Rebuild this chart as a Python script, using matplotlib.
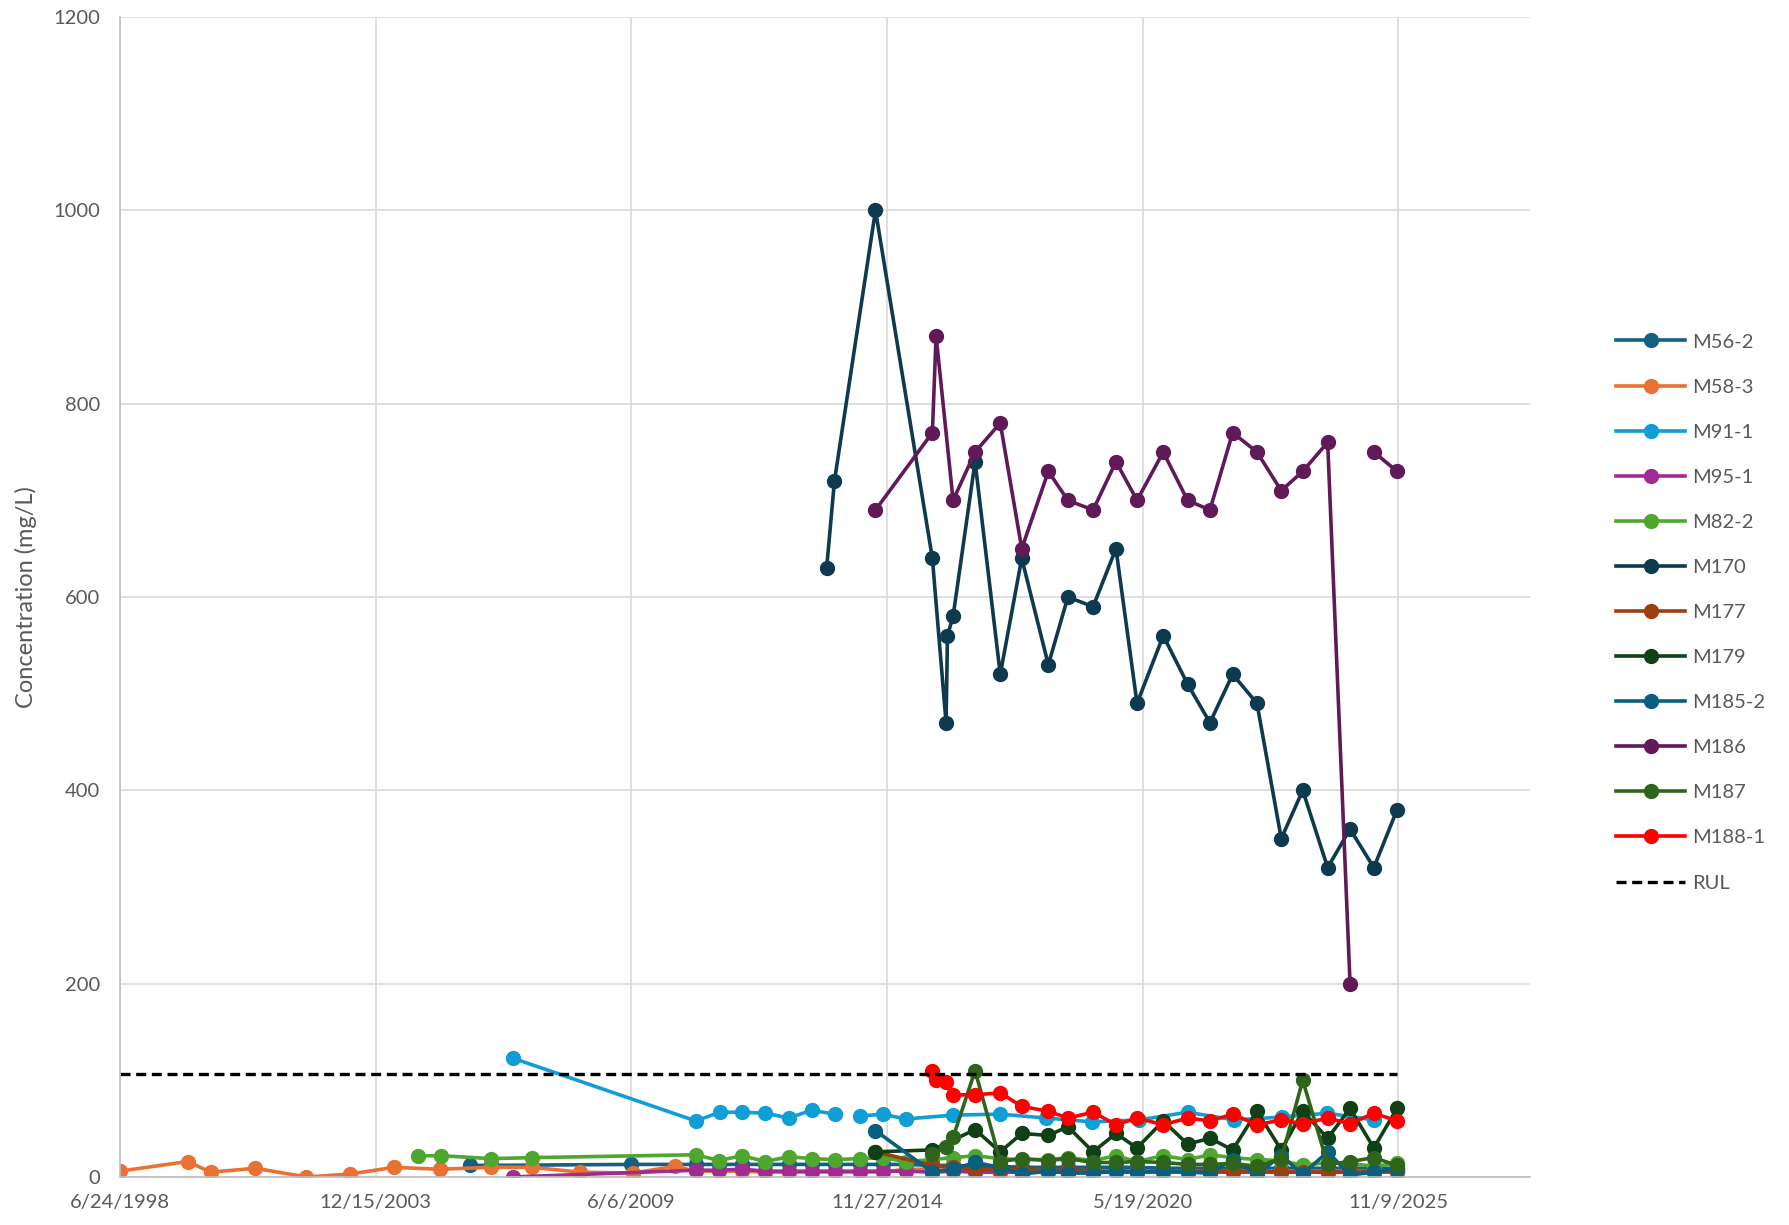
import numpy as np
import pandas as pd
import matplotlib
matplotlib.use("Agg")
import matplotlib.pyplot as plt

plt.rcParams["font.family"] = ["Lato", "DejaVu Sans"]

# ---- sampling dates ----
early_58 = ["1998-06-24", "1999-12-05", "2000-06-03", "2001-05-19", "2002-06-21",
            "2003-05-27", "2004-05-08", "2005-05-01", "2006-06-03", "2007-04-20",
            "2008-05-01", "2009-06-17", "2010-05-12"]
semi_early = ["2010-10-23", "2011-04-23", "2011-10-20", "2012-04-20", "2012-10-20",
              "2013-04-16", "2013-10-16", "2014-05-01", "2014-10-23"]
semi_late = ["2015-04-23", "2015-11-17", "2016-04-27", "2016-10-16", "2017-05-01",
             "2017-10-16", "2018-05-12", "2018-10-12", "2019-04-27", "2019-10-23",
             "2020-04-05", "2020-10-27", "2021-05-05", "2021-10-27", "2022-04-23",
             "2022-10-30", "2023-05-08", "2023-10-23", "2024-05-05", "2024-10-27",
             "2025-05-01", "2025-10-30"]
spring = ["2015-04-23", "2016-04-27", "2017-05-01", "2018-04-23", "2019-04-20",
          "2020-04-20", "2021-05-05", "2022-05-05", "2023-05-15", "2024-05-01",
          "2025-05-01"]

# ---- concentrations (mg/L) ----
m56_dates = ["2005-12-20", "2006-06-03", "2009-06-06"] + semi_early + semi_late
m56_vals = [12, 12, 13, 13, 13, 13, 13, 13, 13, 13, 13, 13,
            13, 12, 12, 11, 11, 10, 10, 10, 10, 10, 10, 9, 9, 9, 9, 9, 9, 9, 9, 9, 9, 9]

m58_dates = early_58 + semi_early + semi_late
m58_vals = [6, 16, 5, 9, 0, 3, 10, 8, 10, 10, 5, 4, 11,
            6, 6, 6, 5, 5, 5, 5, 5, 5,
            8, 8, 7, 6, 6, 6, 6, 6, 6, 6, 6, 6, 6, 6, 6, 6, 6, 6, 6, 6, 6, 6]

m91_dates = ["2006-11-20", "2010-10-23", "2011-04-30", "2011-10-20", "2012-04-20",
             "2012-10-20", "2013-04-16", "2013-10-16", "2014-01-15", "2014-05-01",
             "2014-10-23"] + spring
m91_vals = [123, 58, 67, 67, 66, 61, 69, 65, None, 63, 65,
            60, 64, 65, 61, 57, 59, 67, 59, 62, 66, 59]

m95_dates = ["2006-11-20"] + semi_early + semi_late
m95_vals = [0, 7, 7, 8, 6, 6, 6, 6, 6, 6,
            6, 5, 6, 5, 5, 5, 5, 5, 5, 5, 5, 5, 5, 5, 5, 5, 5, 5, 5, 5, 5, 5]

m82_dates = ["2004-11-10", "2005-05-08", "2006-06-03", "2007-04-20"] + semi_early + semi_late
m82_vals = [22, 22, 19, 20, 23, 17, 22, 16, 21, 19, 18, 19, 20,
            16, 18, 20, 22, 19, 18, 18, 20, 17, 22, 16, 22, 18, 23, 20, 18, 17, 12,
            15, 14, 11, 14]

m170_dates = ["2013-08-12", "2013-10-12", "2014-08-29", "2015-11-17", "2016-03-03",
              "2016-03-14", "2016-04-27", "2016-10-16", "2017-05-01", "2017-10-16",
              "2018-05-12", "2018-10-12", "2019-04-27", "2019-10-23", "2020-04-05",
              "2020-10-27", "2021-05-05", "2021-10-27", "2022-04-23", "2022-10-30",
              "2023-05-08", "2023-10-23", "2024-05-05", "2024-10-27", "2025-05-01",
              "2025-10-30"]
m170_vals = [630, 720, 1000, 640, 470, 560, 580, 740, 520, 640, 530, 600, 590, 650,
             490, 560, 510, 470, 520, 490, 350, 400, 320, 360, 320, 380]

m177_dates = ["2014-08-29"] + semi_late[1:]
m177_vals = [26, 12, 10, 8, 8, 7, 7, 7, 6, 6, 6, 6, 6, 6, 6, 6, 5, 5, 5, 5, 6, 6]

m179_dates = ["2014-08-29", "2015-11-17"] + semi_late[3:]
m179_vals = [26, 28, 49, 26, 45, 43, 52, 26, 45, 30, 58, 34, 40, 28, 68, 28, 68,
             40, 71, 30, 71]

m185_dates = ["2014-08-29", "2015-11-17", "2016-04-27"] + semi_late[3:]
m185_vals = [48, 5, 8, 15, 10, 3, 6, 4, 4, 6, 5, 6, 5, 4, 18, 3, 22, 3, 26, 2, 5, 8]

m186_dates = ["2014-08-29", "2015-11-17", "2015-12-16", "2016-04-27", "2016-10-16",
              "2017-05-01", "2017-10-16", "2018-05-12", "2018-10-12", "2019-04-27",
              "2019-10-23", "2020-04-05", "2020-10-27", "2021-05-05", "2021-10-27",
              "2022-04-23", "2022-10-30", "2023-05-08", "2023-10-23", "2024-05-05",
              "2024-10-27", "2025-01-20", "2025-05-01", "2025-10-30"]
m186_vals = [690, 770, 870, 700, 750, 780, 650, 730, 700, 690, 740, 700, 750, 700,
             690, 770, 750, 710, 730, 760, 200, None, 750, 730]

m187_dates = ["2015-11-17", "2016-03-03", "2016-04-27"] + semi_late[3:]
m187_vals = [24, 31, 41, 110, 16, 19, 17, 19, 15, 15, 16, 15, 13, 13, 14, 11, 19,
             100, 13, 16, 20, 12]

m188_dates = ["2015-11-17", "2015-12-16", "2016-03-03"] + semi_late[2:]
m188_vals = [110, 100, 98, 85, 85, 87, 73, 68, 61, 67, 54, 61, 54, 61, 58, 65, 54,
             59, 55, 61, 55, 66, 58]

rul_dates = ["1998-06-24", "2025-10-30"]
rul_vals = [106.5, 106.5]

series = [
    ("M56-2", m56_dates, m56_vals, "#156082"),
    ("M58-3", m58_dates, m58_vals, "#E97132"),
    ("M91-1", m91_dates, m91_vals, "#0F9ED5"),
    ("M95-1", m95_dates, m95_vals, "#A02B93"),
    ("M82-2", m82_dates, m82_vals, "#4EA72E"),
    ("M170", m170_dates, m170_vals, "#0D3A4E"),
    ("M177", m177_dates, m177_vals, "#9A4010"),
    ("M179", m179_dates, m179_vals, "#0F4016"),
    ("M185-2", m185_dates, m185_vals, "#095F80"),
    ("M186", m186_dates, m186_vals, "#601A58"),
    ("M187", m187_dates, m187_vals, "#2F641C"),
    ("M188-1", m188_dates, m188_vals, "#FF0000"),
]

fig = plt.figure(figsize=(17.9, 12.25), dpi=100)
ax = fig.add_axes([0.067, 0.0392, 0.7877, 0.9469])

for name, d, v, c in series:
    x = pd.to_datetime(d)
    y = np.array([np.nan if val is None else val for val in v], dtype=float)
    ax.plot(x, y, color=c, lw=2.6, marker="o", ms=10, label=name)

ax.plot(pd.to_datetime(rul_dates), rul_vals, color="black", lw=2.4,
        ls=(0, (3, 1.7)), label="RUL")

# axes
ax.set_ylim(0, 1200)
ax.set_yticks(np.arange(0, 1201, 200))
xticks = pd.date_range("1998-06-24", periods=6, freq="2000D")
ax.set_xlim(pd.Timestamp("1998-06-24"), pd.Timestamp("2028-09-03"))
ax.set_xticks(xticks)
ax.set_xticklabels([f"{t.month}/{t.day}/{t.year}" for t in xticks])

ax.grid(True, color="#D9D9D9", lw=1.2)
ax.set_axisbelow(True)
for s in ["top", "right"]:
    ax.spines[s].set_visible(False)
ax.spines["left"].set_color("#BFBFBF")
ax.spines["bottom"].set_color("#BFBFBF")
ax.spines["left"].set_linewidth(1.2)
ax.spines["bottom"].set_linewidth(1.2)
ax.tick_params(length=0, labelsize=14.5, labelcolor="#595959")
ax.tick_params(axis="x", pad=12)
ax.tick_params(axis="y", pad=14)
ax.set_ylabel("Concentration (mg/L)", fontsize=17, color="#595959", labelpad=12)

leg = ax.legend(loc="center left", bbox_to_anchor=(0.903, 0.5),
                bbox_transform=fig.transFigure, frameon=False, fontsize=14.5,
                handlelength=3.4, handletextpad=0.35, labelspacing=1.39,
                borderpad=0, borderaxespad=0)
for t in leg.get_texts():
    t.set_color("#595959")

fig.savefig("out.png", dpi=100)
